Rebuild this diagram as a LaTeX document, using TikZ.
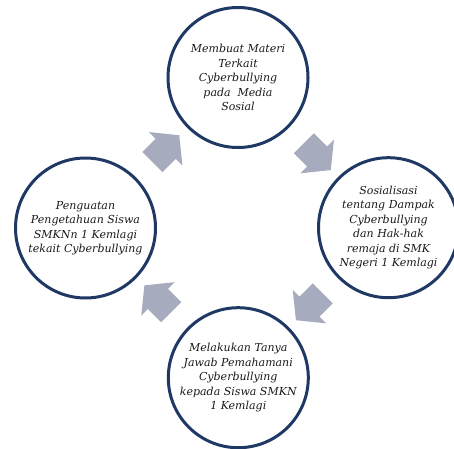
\documentclass[tikz,border=0pt]{standalone}
\usepackage{fontspec}
\setmainfont{DejaVu Serif}
\usetikzlibrary{shapes.arrows,calc}

\definecolor{ringblue}{RGB}{31,56,100}
\definecolor{arrowgray}{RGB}{166,172,190}

\begin{document}
\begin{tikzpicture}[x=1pt, y=1pt,
  stage/.style={circle, draw=ringblue, line width=3pt, minimum size=140pt, inner sep=0pt,
    align=center, text=black!90, font=\fontsize{11}{14.5}\selectfont\itshape},
  cyclearrow/.style={single arrow, fill=arrowgray, draw=none, inner xsep=0pt, inner ysep=14pt,
    minimum height=38pt, single arrow head extend=9.5pt, single arrow tip angle=102}]

\useasboundingbox (0,0) rectangle (454,448);

% circles
\node[stage] (top) at (238,370.5) {Membuat Materi\\Terkait\\Cyberbullying\\pada\ \ Media\\Sosial};
\node[stage] (right) at (388.5,220.3) {Sosialisasi\\tentang Dampak\\Cyberbullying\\dan Hak-hak\\remaja di SMK\\Negeri 1 Kemlagi};
\node[stage] (bottom) at (238.3,70.3) {Melakukan Tanya\\Jawab Pemahamani\\Cyberbullying\\kepada Siswa SMKN\\1 Kemlagi};
\node[stage] (left) at (85.5,220) {Penguatan\\Pengetahuan Siswa\\SMKNn 1 Kemlagi\\tekait Cyberbullying};

% arrows
\node[cyclearrow, rotate=45] (arrowA) at ($(left)!0.5!(top)$) {};
\node[cyclearrow, rotate=-45] (arrowB) at ($(top)!0.5!(right)$) {};
\node[cyclearrow, rotate=-135] (arrowC) at ($(right)!0.5!(bottom)$) {};
\node[cyclearrow, rotate=135] (arrowD) at ($(bottom)!0.5!(left)$) {};

\end{tikzpicture}
\end{document}
